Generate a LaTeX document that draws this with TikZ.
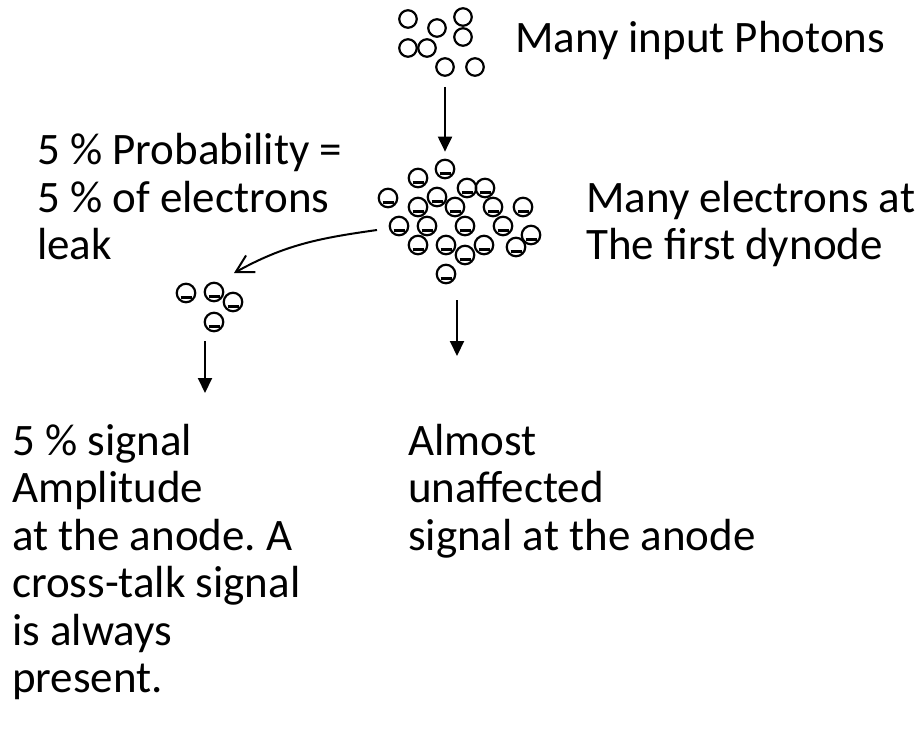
\documentclass[tikz,border=0pt]{standalone}
\usepackage{fontspec}
\setmainfont{Carlito}
\usetikzlibrary{arrows.meta}
\tikzset{
  photon/.style={circle, draw=black, line width=2.2pt, minimum size=17.5pt, inner sep=0pt},
  electron/.style={photon, minimum size=18.5pt, path picture={\draw[line width=2.8pt] ([xshift=-5.5pt,yshift=-4.8pt]path picture bounding box.center) -- ++(11pt,0);}},
  arrow/.style={-{Triangle[length=15pt,width=14pt]}, line width=2pt},
  leakarrow/.style={-{Straight Barb[length=17pt,width=19pt]}, line width=2pt},
  txt/.style={font=\fontsize{45}{47.5}\selectfont\frenchspacing, align=left, inner sep=0pt, anchor=base west}
}

\begin{document}
\begin{tikzpicture}[x=1pt, y=-1pt]
  \useasboundingbox (0,0) rectangle (920,748);
  % input photons
  \node[photon] (pA) at (408,19) {};
  \node[photon] (pB) at (437,28) {};
  \node[photon] (pC) at (463,17) {};
  \node[photon] (pD) at (463,37) {};
  \node[photon] (pE) at (408,48) {};
  \node[photon] (pF) at (427,48) {};
  \node[photon] (pG) at (445,67) {};
  \node[photon] (pH) at (475,67) {};
  % electrons at the first dynode
  \node[electron] (e1) at (445,169) {};
  \node[electron] (e2) at (418,178) {};
  \node[electron] (e3) at (467,188) {};
  \node[electron] (e4) at (485,188) {};
  \node[electron] (e5) at (388,198) {};
  \node[electron] (e6) at (437,197) {};
  \node[electron] (e7) at (418,207) {};
  \node[electron] (e8) at (455,207) {};
  \node[electron] (e9) at (493,207) {};
  \node[electron] (e10) at (523,207) {};
  \node[electron] (e11) at (399,226) {};
  \node[electron] (e12) at (427,226) {};
  \node[electron] (e13) at (465,226) {};
  \node[electron] (e14) at (503,226) {};
  \node[electron] (e15) at (531,235) {};
  \node[electron] (e16) at (418,245) {};
  \node[electron] (e17) at (446,245) {};
  \node[electron] (e18) at (465,255) {};
  \node[electron] (e19) at (484,245) {};
  \node[electron] (e20) at (516,247) {};
  \node[electron] (e21) at (446,274) {};
  % leaked electrons
  \node[electron] (s1) at (186,293) {};
  \node[electron] (s2) at (214,292) {};
  \node[electron] (s3) at (233,302) {};
  \node[electron] (s4) at (214,322) {};
  \coordinate (leakstart) at (377,230);
  \coordinate (leakend) at (234,273);
  \coordinate (mainA) at (457,300);
  \coordinate (mainB) at (457,356);
  \coordinate (leakA) at (205,341);
  \coordinate (leakB) at (205,393);
  \draw[arrow, shorten <=10pt, shorten >=7pt] (pG) -- (e1);
  \draw[leakarrow] (leakstart) to[out=188, in=29] (leakend);
  \draw[arrow] (mainA) -- (mainB);
  \draw[arrow] (leakA) -- (leakB);
  % labels (base = last line)
  \node[txt] (photonlbl) at (515,52) {Many input Photons};
  \node[txt] (problbl) at (37,259.5) {5 \% Probability =\\5 \% of electrons\\leak};
  \node[txt] (dynodelbl) at (586,259.5) {Many electrons at\\The first dynode};
  \node[txt] (anodelbl) at (408,550) {Almost\\unaffected\\signal at the anode};
  \node[txt] (xtalklbl) at (12,692.5) {5 \% signal\\Amplitude\\at the anode. A\\cross-talk signal\\is always\\present.};
\end{tikzpicture}
\end{document}
